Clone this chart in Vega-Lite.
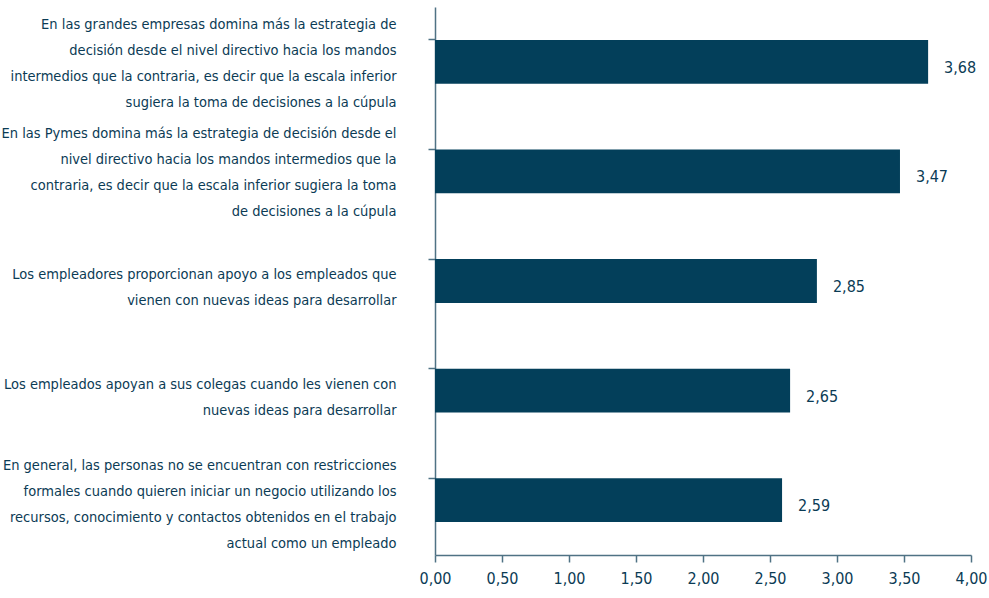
{
  "$schema": "https://vega.github.io/schema/vega-lite/v6.json",
  "width": 536,
  "height": 548,
  "autosize": "none",
  "padding": {"left": 435, "top": 7, "right": 18, "bottom": 43},
  "config": {
    "view": {"stroke": null},
    "locale": {"number": {"decimal": ",", "thousands": ".", "grouping": [3], "currency": ["", " €"]}},
    "font": "DejaVu Sans Condensed"
  },
  "resolve": {"axis": {"y": "independent"}},
  "data": {
    "values": [
      {"label": "En las grandes empresas domina más la estrategia de|decisión desde el nivel directivo hacia los mandos|intermedios que la contraria, es decir que la escala inferior|sugiera la toma de decisiones a la cúpula", "value": 3.68, "order": 1},
      {"label": "En las Pymes domina más la estrategia de decisión desde el|nivel directivo hacia los mandos intermedios que la|contraria, es decir que la escala inferior sugiera la toma|de decisiones a la cúpula", "value": 3.47, "order": 2},
      {"label": "Los empleadores proporcionan apoyo a los empleados que|vienen con nuevas ideas para desarrollar", "value": 2.85, "order": 3},
      {"label": "Los empleados apoyan a sus colegas cuando les vienen con|nuevas ideas para desarrollar", "value": 2.65, "order": 4},
      {"label": "En general, las personas no se encuentran con restricciones|formales cuando quieren iniciar un negocio utilizando los|recursos, conocimiento y contactos obtenidos en el trabajo|actual como un empleado", "value": 2.59, "order": 5}
    ]
  },
  "layer": [
    {
      "mark": {"type": "bar", "color": "#033f5a"},
      "encoding": {
        "y": {
          "field": "label",
          "type": "nominal",
          "sort": {"field": "order"},
          "scale": {"paddingInner": 0.6, "paddingOuter": 0.3},
          "axis": {
            "orient": "left",
            "title": null,
            "ticks": false,
            "domain": false,
            "labelPadding": 39,
            "labelExpr": "split(datum.label, '|')",
            "labelOffset": {
              "condition": [
                {"test": "indexof(datum.value, 'En general') == 0", "value": -34},
                {"test": "length(split(datum.value, '|')) > 2", "value": -37}
              ],
              "value": -6
            },
            "labelFontSize": 14.5,
            "labelLineHeight": 26,
            "labelColor": "#0b3b55",
            "labelLimit": 450
          }
        },
        "x": {
          "field": "value",
          "type": "quantitative",
          "scale": {"domain": [0, 4], "nice": false},
          "axis": {
            "title": null,
            "values": [0, 0.5, 1, 1.5, 2, 2.5, 3, 3.5, 4],
            "format": ".2f",
            "grid": false,
            "labelFlush": false,
            "domainColor": "#4f7284",
            "domainWidth": 1.5,
            "tickColor": "#4f7284",
            "tickWidth": 1.5,
            "tickSize": 7,
            "labelFontSize": 16,
            "labelColor": "#0b3b55",
            "labelPadding": 8
          }
        }
      }
    },
    {
      "mark": {"type": "text", "align": "left", "dx": 16, "dy": 6, "fontSize": 16, "color": "#0b3b55"},
      "encoding": {
        "y": {"field": "label", "type": "nominal", "sort": {"field": "order"}, "axis": null},
        "x": {"field": "value", "type": "quantitative"},
        "text": {"field": "value", "type": "quantitative", "format": ".2f"}
      }
    },
    {
      "mark": {"type": "rule", "opacity": 0},
      "encoding": {
        "y": {
          "field": "label",
          "type": "nominal",
          "sort": {"field": "order"},
          "axis": {
            "orient": "left",
            "title": null,
            "labels": false,
            "bandPosition": 0,
            "domainColor": "#4f7284",
            "domainWidth": 1.5,
            "tickColor": "#4f7284",
            "tickWidth": 1.5,
            "tickSize": 7
          }
        }
      }
    }
  ]
}
